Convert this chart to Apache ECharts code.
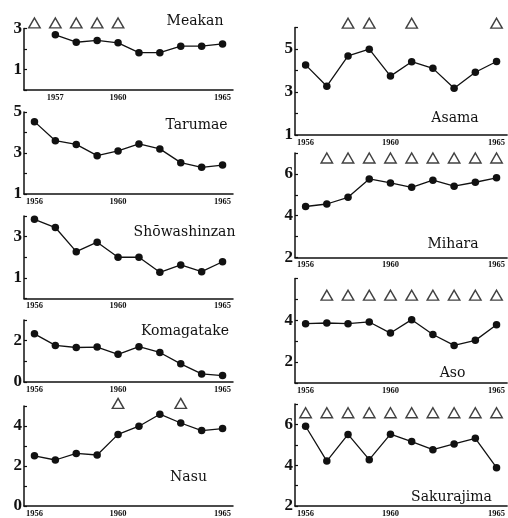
<!DOCTYPE html>
<html>
<head>
<meta charset="utf-8">
<script src="https://cdn.jsdelivr.net/npm/echarts@6/dist/echarts.min.js"></script>
<style>
html,body{margin:0;padding:0;background:#fff;}
#chart{width:508px;height:518px;}
</style>
</head>
<body>
<div id="chart"></div>
<script>
// ---- data ----
var years = ['1956','1957','1958','1959','1960','1961','1962','1963','1964','1965'];

var names = ['Meakan','Tarumae','Shōwashinzan','Komagatake','Nasu','Asama','Mihara','Aso','Sakurajima'];

var meakan       = [null, 2.69, 2.33, 2.42, 2.30, 1.82, 1.82, 2.14, 2.14, 2.25];
var tarumae      = [4.53, 3.60, 3.42, 2.87, 3.10, 3.44, 3.20, 2.53, 2.30, 2.41];
var showashinzan = [3.84, 3.44, 2.27, 2.73, 2.00, 2.00, 1.27, 1.63, 1.30, 1.78];
var komagatake   = [2.33, 1.77, 1.67, 1.69, 1.34, 1.71, 1.43, 0.88, 0.39, 0.31];
var nasu         = [2.51, 2.30, 2.63, 2.55, 3.58, 3.99, 4.59, 4.15, 3.77, 3.87];
var asama        = [4.26, 3.27, 4.68, 4.99, 3.74, 4.41, 4.10, 3.17, 3.92, 4.42];
var mihara       = [4.44, 4.56, 4.88, 5.76, 5.57, 5.36, 5.70, 5.41, 5.60, 5.81];
var aso          = [3.84, 3.87, 3.84, 3.92, 3.39, 4.03, 3.32, 2.80, 3.04, 3.79];
var sakurajima   = [5.91, 4.20, 5.51, 4.27, 5.52, 5.16, 4.76, 5.04, 5.32, 3.88];

// eruption years (triangles) and the height at which the row of triangles sits
var meakanErupt     = ['1956','1957','1958','1959','1960'];
var nasuErupt       = ['1960','1963'];
var asamaErupt      = ['1958','1959','1961','1965'];
var miharaErupt     = ['1957','1958','1959','1960','1961','1962','1963','1964','1965'];
var asoErupt        = ['1957','1958','1959','1960','1961','1962','1963','1964','1965'];
var sakurajimaErupt = ['1956','1957','1958','1959','1960','1961','1962','1963','1964','1965'];
var eruptLevel = [3.27, null, null, null, 5.13, 6.2, 6.76, 5.2, 6.57];

// y ranges and labelled y ticks
var yMin = [0, 1, 0, 0, 0, 1, 2, 1, 2];
var yMax = [3, 5, 4, 3, 5, 6, 7, 6, 7];
var yLabels = [[1,3],[1,3,5],[1,3],[0,2],[0,2,4],[1,3,5],[2,4,6],[2,4],[2,4,6]];
// labelled x ticks
var xLabels = [['1957','1960','1965'],['1956','1960','1965'],['1956','1960','1965'],['1956','1960','1965'],['1956','1960','1965'],
               ['1956','1960','1965'],['1956','1960','1965'],['1956','1960','1965'],['1956','1960','1965']];

var values = [meakan, tarumae, showashinzan, komagatake, nasu, asama, mihara, aso, sakurajima];
var erupts = [meakanErupt, [], [], [], nasuErupt, asamaErupt, miharaErupt, asoErupt, sakurajimaErupt];

// ---- layout ----
var grids = [
  {left:24, width:209, top:28.5, height:61.5},
  {left:24, width:209, top:112, height:82},
  {left:24, width:209, top:216, height:82.5},
  {left:24, width:209, top:320, height:62},
  {left:24, width:209, top:406, height:102},
  {left:295, width:213, top:27.5, height:107.5},
  {left:295, width:213, top:153, height:104.5},
  {left:295, width:213, top:278.5, height:104.5},
  {left:295, width:213, top:404, height:105}
];
var namePos = [[195,21],[196.5,125],[184.5,232],[185,331],[188.5,477],[455,118],[453,244],[452.5,373],[451.5,497]];

var xAxes = [], yAxes = [], series = [], graphics = [];
for (var i = 0; i < 9; i++) {
  (function(i){
    xAxes.push({
      type:'category', gridIndex:i, data:years, boundaryGap:true,
      axisLine:{lineStyle:{color:'#111', width:1.5}},
      axisTick:{inside:true, length:3, interval:0, lineStyle:{color:'#111', width:1.2}},
      axisLabel:{interval:0, margin:3, fontFamily:'Liberation Serif', fontWeight:'bold', fontSize:8.5, color:'#111',
        formatter:function(v){ return xLabels[i].indexOf(v) >= 0 ? v : ''; }},
      splitLine:{show:false}
    });
    yAxes.push({
      type:'value', gridIndex:i, min:yMin[i], max:yMax[i], interval:1,
      axisLine:{show:true, lineStyle:{color:'#111', width:1.5}},
      axisTick:{show:true, inside:true, length:3, lineStyle:{color:'#111', width:1.2}},
      axisLabel:{margin:2, fontFamily:'Liberation Serif', fontWeight:'bold', fontSize:17, color:'#111',
        formatter:function(v){ return yLabels[i].indexOf(v) >= 0 ? String(v) : ''; }},
      splitLine:{show:false}
    });
    series.push({
      type:'line', xAxisIndex:i, yAxisIndex:i, data:values[i],
      symbol:'circle', symbolSize:7.5, lineStyle:{color:'#111', width:1.3},
      itemStyle:{color:'#111'}, animation:false
    });
    if (erupts[i].length) {
      series.push({
        type:'scatter', xAxisIndex:i, yAxisIndex:i, clip:false,
        data:erupts[i].map(function(y){ return [y, eruptLevel[i]]; }),
        symbol:'triangle', symbolSize:[11.5,10],
        itemStyle:{color:'#fff', borderColor:'#111', borderWidth:1.4}, animation:false
      });
    }
    graphics.push({
      type:'text', x:namePos[i][0], y:namePos[i][1],
      style:{text:names[i], fontFamily:'DejaVu Serif', fontSize:14, fill:'#111', align:'center', verticalAlign:'middle'}
    });
  })(i);
}

var chart = echarts.init(document.getElementById('chart'), null, {renderer:'canvas'});
chart.setOption({
  animation:false,
  backgroundColor:'#fff',
  grid:grids,
  xAxis:xAxes,
  yAxis:yAxes,
  series:series,
  graphic:graphics
});
</script>
</body>
</html>
